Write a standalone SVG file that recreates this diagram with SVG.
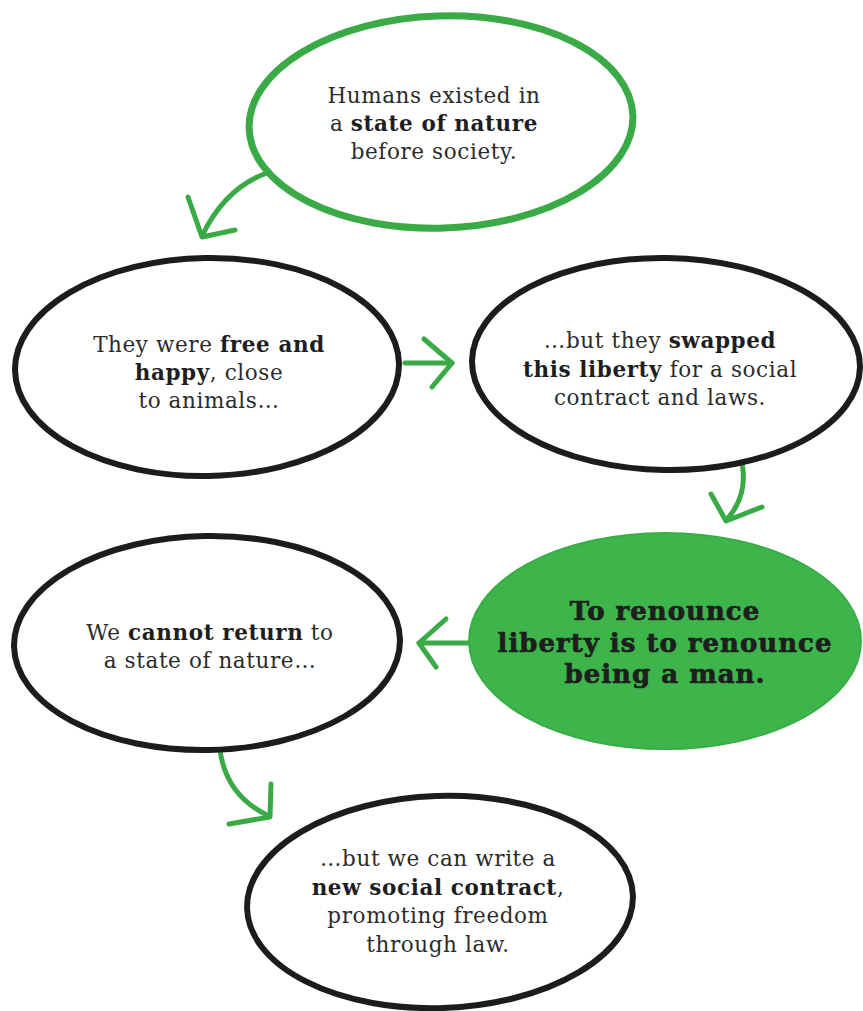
<svg xmlns="http://www.w3.org/2000/svg" width="863" height="1011" viewBox="0 0 863 1011">
<style>
.bg{fill:#ffffff}
.nodeB{fill:#ffffff;stroke:#1c1c1c;stroke-width:6}
.nodeG{fill:#ffffff;stroke:#3aaa47;stroke-width:7}
.nodeF{fill:#3db54b;stroke:#38ad46;stroke-width:2}
.t{font-family:"DejaVu Serif","Liberation Serif",serif;font-size:21.5px;letter-spacing:0.6px;fill:#2b2b2b;text-anchor:middle}
.b{font-weight:bold;fill:#1e1e1e}
.tb{font-family:"DejaVu Serif","Liberation Serif",serif;font-size:26px;letter-spacing:1px;font-weight:bold;fill:#1e1e1e;stroke:#1e1e1e;stroke-width:0.7px;text-anchor:middle}
.arr{fill:none;stroke:#3aaa47;stroke-width:5;stroke-linecap:round;stroke-linejoin:round}
</style>
<rect class="bg" x="0" y="0" width="863" height="1011"/>
<g id="connectors">
  <path class="arr" d="M267,173 Q225,188 202,236"/>
  <path class="arr" d="M188,197 L202,237 L235,230"/>
  <path class="arr" d="M405,363 L452,363"/>
  <path class="arr" d="M424,339 L452,363 L432,387"/>
  <path class="arr" d="M742,463 Q748,495 728,518"/>
  <path class="arr" d="M711,494 L726,521 L762,507"/>
  <path class="arr" d="M468,643 L419,643"/>
  <path class="arr" d="M446,619 L419,643 L436,667"/>
  <path class="arr" d="M220,750 Q226,795 267,815"/>
  <path class="arr" d="M271,784 L270,817 L229,824"/>
</g>
<g id="node1">
  <ellipse class="nodeG" cx="441" cy="122" rx="192" ry="106" transform="rotate(-2 441 122)"/>
  <text class="t" x="434" y="103">Humans existed in</text>
  <text class="t" x="434" y="131">a <tspan class="b">state of nature</tspan></text>
  <text class="t" x="434" y="159">before society.</text>
</g>
<g id="node2">
  <ellipse class="nodeB" cx="207" cy="367" rx="192" ry="109" transform="rotate(-1 207 367)"/>
  <text class="t" x="209" y="352">They were <tspan class="b">free and</tspan></text>
  <text class="t" x="209" y="380"><tspan class="b">happy</tspan>, close</text>
  <text class="t" x="209" y="408">to animals…</text>
</g>
<g id="node3">
  <ellipse class="nodeB" cx="666" cy="364" rx="194" ry="106" transform="rotate(1 666 364)"/>
  <text class="t" x="660" y="348">…but they <tspan class="b">swapped</tspan></text>
  <text class="t" x="660" y="377"><tspan class="b">this liberty</tspan> for a social</text>
  <text class="t" x="660" y="405">contract and laws.</text>
</g>
<g id="node4">
  <ellipse class="nodeF" cx="665" cy="641" rx="196" ry="108"/>
  <text class="tb" x="665" y="620">To renounce</text>
  <text class="tb" x="665" y="652">liberty is to renounce</text>
  <text class="tb" x="665" y="683">being a man.</text>
</g>
<g id="node5">
  <ellipse class="nodeB" cx="207" cy="643" rx="193" ry="107" transform="rotate(-1 207 643)"/>
  <text class="t" x="210" y="640">We <tspan class="b">cannot return</tspan> to</text>
  <text class="t" x="210" y="668">a state of nature…</text>
</g>
<g id="node6">
  <ellipse class="nodeB" cx="440" cy="902" rx="193" ry="106" transform="rotate(-2 440 902)"/>
  <text class="t" x="438" y="866">…but we can write a</text>
  <text class="t" x="438" y="895"><tspan class="b">new social contract</tspan>,</text>
  <text class="t" x="438" y="923">promoting freedom</text>
  <text class="t" x="438" y="952">through law.</text>
</g>
</svg>
